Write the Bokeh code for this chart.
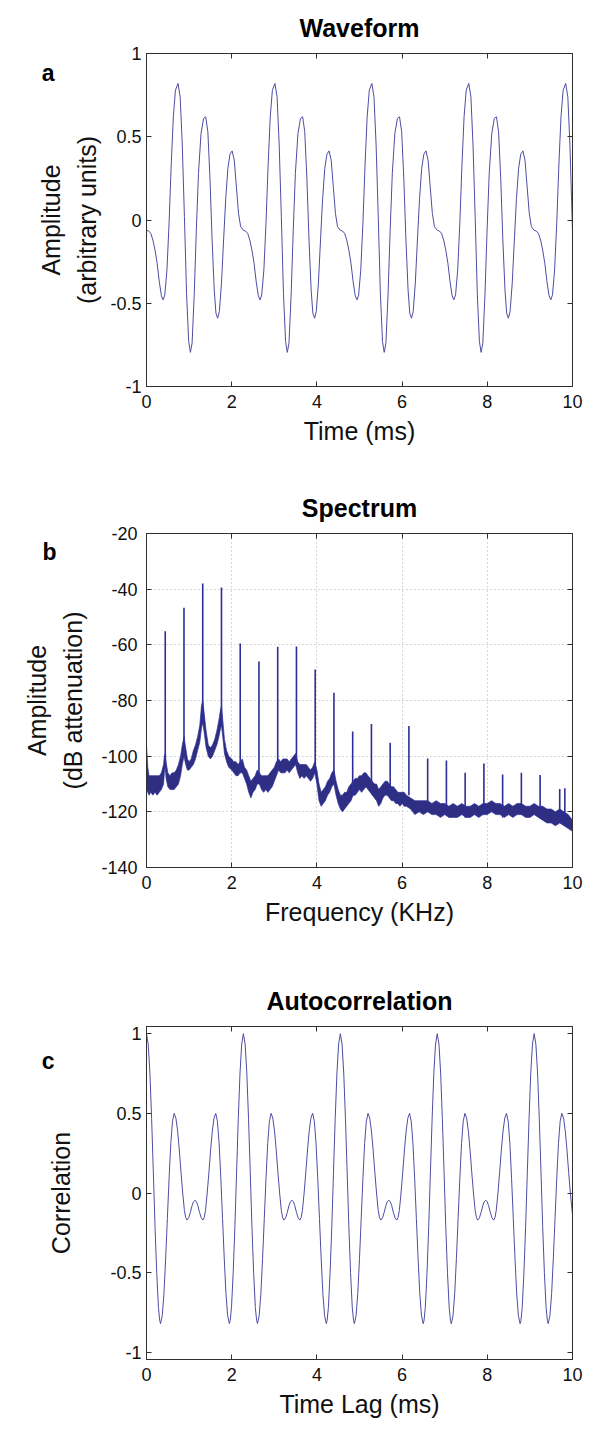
from bokeh.plotting import figure
from bokeh.layouts import column
from bokeh.models import FixedTicker, LinearAxis, Range1d
from bokeh.embed import file_html
from bokeh.resources import INLINE

FONT = "Liberation Sans"

# ---------------- Panel a: waveform (time in ms, amplitude) ----------------
wave_t = [
    0.00, 0.05, 0.10, 0.15, 0.20, 0.25, 0.30, 0.35, 0.39, 0.43, 0.48, 0.53, 0.58, 0.63, 0.68, 0.74, 0.79, 0.84, 0.89, 0.94, 0.99, 1.03, 1.07, 1.12, 1.17, 1.22, 1.28, 1.34, 1.39, 1.44, 1.49, 1.54, 1.59, 1.63, 1.67, 1.71, 1.76, 1.81, 1.86, 1.91, 1.96, 2.01, 2.06, 2.11, 2.16, 2.21,
    2.275, 2.325, 2.375, 2.425, 2.475, 2.525, 2.575, 2.625, 2.665, 2.705, 2.755, 2.805, 2.855, 2.905, 2.955, 3.015, 3.065, 3.115, 3.165, 3.215, 3.265, 3.305, 3.345, 3.395, 3.445, 3.495, 3.555, 3.615, 3.665, 3.715, 3.765, 3.815, 3.865, 3.905, 3.945, 3.985, 4.035, 4.085, 4.135, 4.185, 4.235, 4.285, 4.335, 4.385, 4.435, 4.485,
    4.55, 4.60, 4.65, 4.70, 4.75, 4.80, 4.85, 4.90, 4.94, 4.98, 5.03, 5.08, 5.13, 5.18, 5.23, 5.29, 5.34, 5.39, 5.44, 5.49, 5.54, 5.58, 5.62, 5.67, 5.72, 5.77, 5.83, 5.89, 5.94, 5.99, 6.04, 6.09, 6.14, 6.18, 6.22, 6.26, 6.31, 6.36, 6.41, 6.46, 6.51, 6.56, 6.61, 6.66, 6.71, 6.76,
    6.825, 6.875, 6.925, 6.975, 7.025, 7.075, 7.125, 7.175, 7.215, 7.255, 7.305, 7.355, 7.405, 7.455, 7.505, 7.565, 7.615, 7.665, 7.715, 7.765, 7.815, 7.855, 7.895, 7.945, 7.995, 8.045, 8.105, 8.165, 8.215, 8.265, 8.315, 8.365, 8.415, 8.455, 8.495, 8.535, 8.585, 8.635, 8.685, 8.735, 8.785, 8.835, 8.885, 8.935, 8.985, 9.035,
    9.10, 9.15, 9.20, 9.25, 9.30, 9.35, 9.40, 9.45, 9.49, 9.53, 9.58, 9.63, 9.68, 9.73, 9.78, 9.84, 9.89, 9.94, 9.99, 10.00,
]
wave_v = [
    -0.062, -0.066, -0.080, -0.120, -0.180, -0.260, -0.370, -0.455, -0.480, -0.450, -0.300, -0.020, 0.330, 0.620, 0.780, 0.820, 0.740, 0.450, 0.020, -0.440, -0.730, -0.795, -0.740, -0.450, -0.060, 0.280, 0.520, 0.610, 0.620, 0.530, 0.250, -0.120, -0.420, -0.560, -0.590, -0.550, -0.380, -0.120, 0.130, 0.310, 0.395, 0.415, 0.360, 0.200, 0.040, -0.040,
    -0.062, -0.066, -0.080, -0.120, -0.180, -0.260, -0.370, -0.455, -0.480, -0.450, -0.300, -0.020, 0.330, 0.620, 0.780, 0.820, 0.740, 0.450, 0.020, -0.440, -0.730, -0.795, -0.740, -0.450, -0.060, 0.280, 0.520, 0.610, 0.620, 0.530, 0.250, -0.120, -0.420, -0.560, -0.590, -0.550, -0.380, -0.120, 0.130, 0.310, 0.395, 0.415, 0.360, 0.200, 0.040, -0.040,
    -0.062, -0.066, -0.080, -0.120, -0.180, -0.260, -0.370, -0.455, -0.480, -0.450, -0.300, -0.020, 0.330, 0.620, 0.780, 0.820, 0.740, 0.450, 0.020, -0.440, -0.730, -0.795, -0.740, -0.450, -0.060, 0.280, 0.520, 0.610, 0.620, 0.530, 0.250, -0.120, -0.420, -0.560, -0.590, -0.550, -0.380, -0.120, 0.130, 0.310, 0.395, 0.415, 0.360, 0.200, 0.040, -0.040,
    -0.062, -0.066, -0.080, -0.120, -0.180, -0.260, -0.370, -0.455, -0.480, -0.450, -0.300, -0.020, 0.330, 0.620, 0.780, 0.820, 0.740, 0.450, 0.020, -0.440, -0.730, -0.795, -0.740, -0.450, -0.060, 0.280, 0.520, 0.610, 0.620, 0.530, 0.250, -0.120, -0.420, -0.560, -0.590, -0.550, -0.380, -0.120, 0.130, 0.310, 0.395, 0.415, 0.360, 0.200, 0.040, -0.040,
    -0.062, -0.066, -0.080, -0.120, -0.180, -0.260, -0.370, -0.455, -0.480, -0.450, -0.300, -0.020, 0.330, 0.620, 0.780, 0.820, 0.740, 0.450, 0.020, -0.070,
]

# ---------------- Panel b: spectrum (frequency in kHz, dB) ----------------
spec_f = [0.00, 0.03, 0.06, 0.10, 0.15, 0.20, 0.25, 0.30, 0.35, 0.40, 0.42, 0.44, 0.46, 0.50, 0.55, 0.60, 0.65, 0.70, 0.75, 0.80, 0.84, 0.88, 0.92, 0.96,
          1.00, 1.05, 1.10, 1.15, 1.20, 1.25, 1.29, 1.32, 1.35, 1.40, 1.45, 1.50, 1.55, 1.60, 1.65, 1.70, 1.74, 1.76, 1.79, 1.83, 1.88, 1.93,
          2.00, 2.05, 2.10, 2.15, 2.20, 2.25, 2.30, 2.35, 2.40, 2.45, 2.50, 2.55, 2.60, 2.65, 2.70, 2.75, 2.80, 2.85, 2.90, 2.95,
          3.00, 3.05, 3.10, 3.15, 3.20, 3.25, 3.30, 3.35, 3.40, 3.45, 3.50, 3.55, 3.60, 3.65, 3.70, 3.75, 3.80, 3.85, 3.90, 3.95,
          4.00, 4.05, 4.10, 4.15, 4.20, 4.25, 4.30, 4.35, 4.40, 4.45, 4.50, 4.55, 4.60, 4.65, 4.70, 4.75, 4.80, 4.85, 4.90, 4.95,
          5.00, 5.05, 5.10, 5.15, 5.20, 5.25, 5.30, 5.35, 5.40, 5.45, 5.50, 5.55, 5.60, 5.65, 5.70, 5.75, 5.80, 5.85, 5.90, 5.95,
          6.00, 6.05, 6.10, 6.20, 6.30, 6.40, 6.50, 6.60, 6.70, 6.80, 6.90, 7.00, 7.10, 7.20, 7.30, 7.40, 7.50, 7.60, 7.70, 7.80, 7.90,
          8.00, 8.10, 8.20, 8.30, 8.40, 8.50, 8.60, 8.70, 8.80, 8.90, 9.00, 9.10, 9.20, 9.30, 9.40, 9.50, 9.60, 9.70, 9.80, 9.90, 10.00]
spec_lo = [-112, -113, -114, -113, -114, -113, -114, -113, -112, -110, -106, -104, -108, -111, -112, -112, -112, -111, -110, -107, -103, -100, -103, -105,
           -105, -104, -103, -101, -98, -95, -90, -88, -91, -97, -100, -101, -100, -98, -96, -93, -90, -89, -93, -99, -102, -104,
           -105, -106, -107, -107, -106, -106, -108, -110, -113, -115, -113, -112, -110, -110, -112, -113, -112, -113, -112, -111,
           -109, -107, -105, -106, -106, -106, -105, -106, -105, -104, -103, -106, -108, -107, -108, -107, -108, -109, -108, -106,
           -110, -116, -118, -117, -116, -114, -113, -111, -110, -114, -117, -119, -120, -119, -118, -117, -116, -114, -114, -113,
           -112, -113, -112, -111, -112, -113, -114, -115, -116, -118, -117, -115, -114, -114, -115, -116, -116, -117, -117, -118,
           -117, -118, -118, -119, -121, -120, -121, -120, -121, -121, -122, -121, -122, -122, -122, -121, -122, -122, -121, -122, -121,
           -121, -120, -121, -121, -122, -121, -122, -121, -121, -122, -122, -121, -122, -123, -124, -124, -125, -124, -125, -126, -127]
spec_hi = [-96, -104, -107, -107, -107, -107, -107, -107, -106, -103, -100, -99, -102, -106, -107, -106, -106, -105, -103, -100, -96, -93, -97, -101,
           -102, -101, -98, -96, -93, -89, -82, -80, -84, -91, -96, -97, -96, -94, -91, -87, -83, -82, -87, -94, -98, -100,
           -101, -102, -102, -103, -102, -101, -104, -105, -107, -109, -108, -107, -105, -106, -107, -107, -107, -107, -106, -105,
           -104, -102, -101, -102, -101, -101, -101, -102, -101, -100, -99, -102, -103, -103, -103, -103, -104, -105, -104, -102,
           -105, -110, -113, -112, -111, -109, -108, -106, -105, -109, -112, -114, -114, -113, -113, -111, -110, -109, -108, -108,
           -107, -107, -106, -106, -107, -108, -109, -110, -110, -112, -111, -110, -109, -109, -110, -111, -111, -112, -113, -113,
           -113, -113, -114, -115, -116, -116, -116, -116, -117, -116, -117, -117, -118, -117, -118, -117, -118, -118, -117, -118, -117,
           -117, -116, -117, -117, -118, -117, -118, -117, -117, -118, -118, -117, -118, -118, -119, -119, -120, -119, -120, -121, -123]

peak_f = [0.44, 0.88, 1.32, 1.76, 2.20, 2.64, 3.08, 3.52, 3.96, 4.40, 4.84, 5.28, 5.72, 6.16, 6.60, 7.04, 7.48, 7.92, 8.36, 8.80, 9.24, 9.70, 9.82]
peak_db = [-55.1, -46.7, -38.0, -39.4, -59.5, -66.0, -60.7, -60.6, -68.9, -77.2, -91.1, -88.4, -95.2, -89.2, -100.8, -101.6, -106.0, -102.6, -106.6, -106.0, -106.8, -111.8, -111.5]
peak_base = [-104, -100, -88, -89, -106, -110, -105, -103, -106, -110, -114, -113, -114, -114, -120, -121, -122, -121, -122, -121, -122, -124, -125]

# ---------------- Panel c: autocorrelation (lag in ms) ----------------
acf_t = [
    0.00, 0.04, 0.08, 0.12, 0.16, 0.20, 0.24, 0.28, 0.31, 0.33, 0.37, 0.41, 0.45, 0.49, 0.53, 0.57, 0.61, 0.65, 0.69, 0.73, 0.77, 0.81, 0.85, 0.89, 0.92, 0.95, 0.99, 1.03, 1.07, 1.10, 1.14,
    1.175, 1.205, 1.245, 1.285, 1.325, 1.355, 1.385, 1.425, 1.465, 1.505, 1.545, 1.585, 1.625, 1.665, 1.705, 1.745, 1.785, 1.825, 1.865, 1.905, 1.945, 1.965, 1.995, 2.035, 2.075, 2.115, 2.155, 2.195, 2.235,
    2.275, 2.315, 2.355, 2.395, 2.435, 2.475, 2.515, 2.555, 2.585, 2.605, 2.645, 2.685, 2.725, 2.765, 2.805, 2.845, 2.885, 2.925, 2.965, 3.005, 3.045, 3.085, 3.125, 3.165, 3.195, 3.225, 3.265, 3.305, 3.345, 3.375, 3.415,
    3.45, 3.48, 3.52, 3.56, 3.60, 3.63, 3.66, 3.70, 3.74, 3.78, 3.82, 3.86, 3.90, 3.94, 3.98, 4.02, 4.06, 4.10, 4.14, 4.18, 4.22, 4.24, 4.27, 4.31, 4.35, 4.39, 4.43, 4.47, 4.51,
    4.55, 4.59, 4.63, 4.67, 4.71, 4.75, 4.79, 4.83, 4.86, 4.88, 4.92, 4.96, 5.00, 5.04, 5.08, 5.12, 5.16, 5.20, 5.24, 5.28, 5.32, 5.36, 5.40, 5.44, 5.47, 5.50, 5.54, 5.58, 5.62, 5.65, 5.69,
    5.725, 5.755, 5.795, 5.835, 5.875, 5.905, 5.935, 5.975, 6.015, 6.055, 6.095, 6.135, 6.175, 6.215, 6.255, 6.295, 6.335, 6.375, 6.415, 6.455, 6.495, 6.515, 6.545, 6.585, 6.625, 6.665, 6.705, 6.745, 6.785,
    6.825, 6.865, 6.905, 6.945, 6.985, 7.025, 7.065, 7.105, 7.135, 7.155, 7.195, 7.235, 7.275, 7.315, 7.355, 7.395, 7.435, 7.475, 7.515, 7.555, 7.595, 7.635, 7.675, 7.715, 7.745, 7.775, 7.815, 7.855, 7.895, 7.925, 7.965,
    8.00, 8.03, 8.07, 8.11, 8.15, 8.18, 8.21, 8.25, 8.29, 8.33, 8.37, 8.41, 8.45, 8.49, 8.53, 8.57, 8.61, 8.65, 8.69, 8.73, 8.77, 8.79, 8.82, 8.86, 8.90, 8.94, 8.98, 9.02, 9.06,
    9.10, 9.14, 9.18, 9.22, 9.26, 9.30, 9.34, 9.38, 9.41, 9.43, 9.47, 9.51, 9.55, 9.59, 9.63, 9.67, 9.71, 9.75, 9.79, 9.83, 9.87, 9.91, 9.95, 9.99, 10.00,
]
acf_v = [
    1.00, 0.935, 0.753, 0.468, 0.133, -0.21, -0.50, -0.718, -0.80, -0.82, -0.77, -0.63, -0.41, -0.16, 0.09, 0.31, 0.45, 0.50, 0.47, 0.39, 0.27, 0.13, 0.00, -0.11, -0.154, -0.17, -0.156, -0.121, -0.079, -0.056, -0.045,
    -0.056, -0.079, -0.121, -0.156, -0.17, -0.154, -0.11, 0.00, 0.13, 0.27, 0.39, 0.47, 0.50, 0.45, 0.31, 0.09, -0.16, -0.41, -0.63, -0.77, -0.82, -0.80, -0.718, -0.50, -0.21, 0.133, 0.468, 0.753, 0.935,
    1.00, 0.935, 0.753, 0.468, 0.133, -0.21, -0.50, -0.718, -0.80, -0.82, -0.77, -0.63, -0.41, -0.16, 0.09, 0.31, 0.45, 0.50, 0.47, 0.39, 0.27, 0.13, 0.00, -0.11, -0.154, -0.17, -0.156, -0.121, -0.079, -0.056, -0.045,
    -0.056, -0.079, -0.121, -0.156, -0.17, -0.154, -0.11, 0.00, 0.13, 0.27, 0.39, 0.47, 0.50, 0.45, 0.31, 0.09, -0.16, -0.41, -0.63, -0.77, -0.82, -0.80, -0.718, -0.50, -0.21, 0.133, 0.468, 0.753, 0.935,
    1.00, 0.935, 0.753, 0.468, 0.133, -0.21, -0.50, -0.718, -0.80, -0.82, -0.77, -0.63, -0.41, -0.16, 0.09, 0.31, 0.45, 0.50, 0.47, 0.39, 0.27, 0.13, 0.00, -0.11, -0.154, -0.17, -0.156, -0.121, -0.079, -0.056, -0.045,
    -0.056, -0.079, -0.121, -0.156, -0.17, -0.154, -0.11, 0.00, 0.13, 0.27, 0.39, 0.47, 0.50, 0.45, 0.31, 0.09, -0.16, -0.41, -0.63, -0.77, -0.82, -0.80, -0.718, -0.50, -0.21, 0.133, 0.468, 0.753, 0.935,
    1.00, 0.935, 0.753, 0.468, 0.133, -0.21, -0.50, -0.718, -0.80, -0.82, -0.77, -0.63, -0.41, -0.16, 0.09, 0.31, 0.45, 0.50, 0.47, 0.39, 0.27, 0.13, 0.00, -0.11, -0.154, -0.17, -0.156, -0.121, -0.079, -0.056, -0.045,
    -0.056, -0.079, -0.121, -0.156, -0.17, -0.154, -0.11, 0.00, 0.13, 0.27, 0.39, 0.47, 0.50, 0.45, 0.31, 0.09, -0.16, -0.41, -0.63, -0.77, -0.82, -0.80, -0.718, -0.50, -0.21, 0.133, 0.468, 0.753, 0.935,
    1.00, 0.935, 0.753, 0.468, 0.133, -0.21, -0.50, -0.718, -0.80, -0.82, -0.77, -0.63, -0.41, -0.16, 0.09, 0.31, 0.45, 0.50, 0.47, 0.39, 0.27, 0.13, 0.00, -0.11, -0.135,
]

x_ticks = [0, 2, 4, 6, 8, 10]
x_labels = {0: "0", 2: "2", 4: "4", 6: "6", 8: "8", 10: "10"}
corr_ticks = [-1, -0.5, 0, 0.5, 1]
corr_labels = {-1: "-1", -0.5: "-0.5", 0: "0", 0.5: "0.5", 1: "1"}
db_ticks = [-140, -120, -100, -80, -60, -40, -20]
db_labels = {t: str(t) for t in db_ticks}

LINE = "#4d4da2"
AXC = "#303030"


def make_fig(title, xlabel, ylabel, yticks, ylabels, yrange, frame_h, top, bottom,
             letter, letter_y, letter_standoff, ystand, ytick_standoff):
    p = figure(frame_width=426, frame_height=frame_h,
               x_range=Range1d(0, 10), y_range=Range1d(*yrange),
               output_backend="svg", toolbar_location=None,
               min_border_left=146, min_border_right=20,
               min_border_top=top, min_border_bottom=bottom)
    p.outline_line_color = AXC
    p.outline_line_alpha = 1.0
    p.background_fill_color = "white"
    p.border_fill_color = "white"
    p.grid.visible = False

    p.xaxis.ticker = FixedTicker(ticks=x_ticks)
    p.xaxis.major_label_overrides = x_labels
    p.yaxis.ticker = FixedTicker(ticks=yticks)
    p.yaxis.major_label_overrides = ylabels
    p.xaxis.axis_label = xlabel
    p.yaxis.axis_label = ylabel
    p.yaxis.axis_label_standoff = ystand
    p.xaxis.axis_label_standoff = 6
    p.xaxis.major_label_standoff = 8
    p.yaxis.major_label_standoff = ytick_standoff

    right = LinearAxis(ticker=FixedTicker(ticks=yticks),
                       major_label_overrides={t: "" for t in yticks})
    # the top axis carries the panel title as its axis label
    above = LinearAxis(ticker=FixedTicker(ticks=x_ticks),
                       major_label_overrides={t: "" for t in x_ticks},
                       axis_label=title)
    p.add_layout(right, "right")
    p.add_layout(above, "above")

    for ax in p.axis:
        ax.major_tick_in = 5
        ax.major_tick_out = 0
        ax.minor_tick_line_color = None
        ax.axis_line_color = AXC
        ax.major_tick_line_color = AXC
        ax.major_label_text_font = FONT
        ax.major_label_text_font_size = "18px"
        ax.major_label_text_color = "#111111"
        ax.axis_label_text_font = FONT
        ax.axis_label_text_font_size = "25px"
        ax.axis_label_text_font_style = "normal"
        ax.axis_label_text_color = "#111111"
        ax.axis_label_text_line_height = 1.3
    for ax in (right, above):
        ax.major_label_standoff = 0
        ax.major_label_text_font_size = "1px"
    above.axis_label_text_font_style = "bold"
    above.axis_label_text_color = "black"
    above.axis_label_text_line_height = 1.0
    above.axis_label_standoff = 12

    # panel letter: a bare outer axis whose single tick label is the letter
    letter_axis = LinearAxis(ticker=FixedTicker(ticks=[letter_y]),
                             major_label_overrides={letter_y: letter},
                             axis_line_color=None, major_tick_line_color=None,
                             minor_tick_line_color=None,
                             major_tick_in=0, major_tick_out=0,
                             major_label_standoff=letter_standoff,
                             major_label_text_font=FONT,
                             major_label_text_font_size="23px",
                             major_label_text_font_style="bold",
                             major_label_text_color="black")
    p.add_layout(letter_axis, "left")
    return p


pa = make_fig("Waveform", "Time (ms)", "Amplitude\n(arbitrary units)",
              corr_ticks, corr_labels, (-1, 1), 333, 53, 84, "a", 0.88, -20, 6, 5)
pa.line(wave_t, wave_v, line_color=LINE, line_width=1.0)

pb = make_fig("Spectrum", "Frequency (KHz)", "Amplitude\n(dB attenuation)",
              db_ticks, db_labels, (-140, -20), 334, 63, 83, "b", -26.5, -36, 11, 9)
pb.xgrid.visible = True
pb.ygrid.visible = True
pb.xgrid.ticker = FixedTicker(ticks=[2, 4, 6, 8])
pb.ygrid.ticker = FixedTicker(ticks=[-120, -100, -80, -60, -40])
pb.grid.grid_line_color = "#b0b0b0"
pb.grid.grid_line_dash = "1 3"
pb.grid.grid_line_width = 1
pb.varea(x=spec_f, y1=spec_lo, y2=spec_hi, fill_color="#1c1c78", fill_alpha=0.92)
pb.line(spec_f, spec_hi, line_color="#30309a", line_width=1, line_alpha=0.7)
pb.line(spec_f, spec_lo, line_color="#30309a", line_width=1, line_alpha=0.7)
pb.segment(x0=peak_f, y0=peak_base, x1=peak_f, y1=peak_db, line_color="#2e2e98", line_width=1.6)

pc = make_fig("Autocorrelation", "Time Lag (ms)", "Correlation",
              corr_ticks, corr_labels, (-1.045, 1.045), 333, 76, 73, "c", 0.83, -10, 32, 5)
pc.line(acf_t, acf_v, line_color=LINE, line_width=1.0)

layout = column(pa, pb, pc, spacing=0)
open("out.html", "w").write(file_html(layout, INLINE))
